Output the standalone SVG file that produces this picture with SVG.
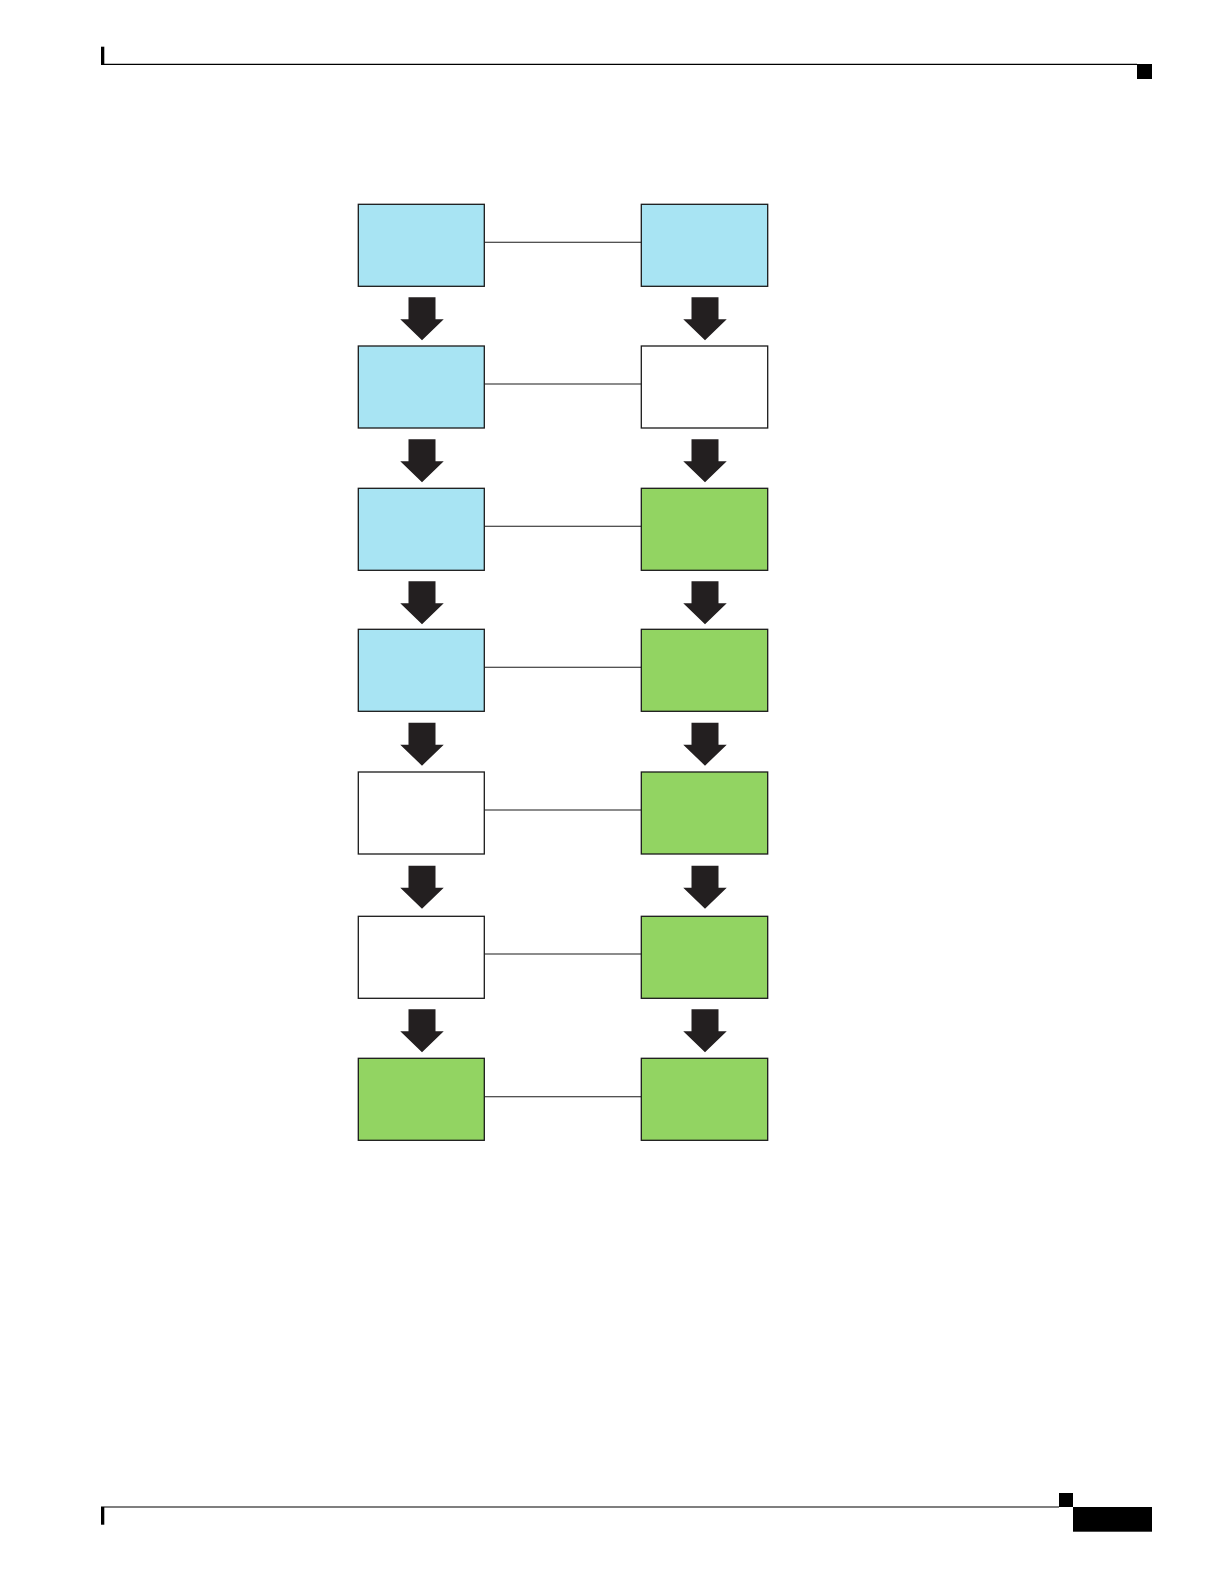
<svg xmlns="http://www.w3.org/2000/svg" xmlns:xlink="http://www.w3.org/1999/xlink" width="1224" height="1584" viewBox="0 0 1224 1584">
<style>
.box{stroke:#1a1a1a;stroke-width:1.3}
.blue{fill:#a8e4f3}
.green{fill:#92d462}
.white{fill:#ffffff}
.conn{stroke:#1a1a1a;stroke-width:1.1;fill:none}
.arrow{fill:#231f20}
.page{fill:#000}
</style>
<defs>
<polygon id="arr" class="arrow" points="-13.5,0 13.5,0 13.5,22 21.75,22 0,43 -21.75,22 -13.5,22"/>
</defs>
<rect width="1224" height="1584" fill="#fff"/>
<g id="header">
<rect class="page" x="101" y="46.7" width="3.3" height="18.3"/>
<line x1="101" y1="64.3" x2="1137" y2="64.3" stroke="#000" stroke-width="1.2"/>
<rect class="page" x="1137" y="64" width="15" height="15"/>
</g>
<g id="footer">
<line x1="101" y1="1507" x2="1059" y2="1507" stroke="#000" stroke-width="1.2"/>
<rect class="page" x="101" y="1507" width="3.3" height="17.7"/>
<rect class="page" x="1059" y="1493" width="14" height="14"/>
<rect class="page" x="1073" y="1507" width="79" height="24.7"/>
</g>
<g id="connectors">
<line class="conn" x1="484.3" y1="242.3" x2="641.3" y2="242.3"/>
<line class="conn" x1="484.3" y1="384" x2="641.3" y2="384"/>
<line class="conn" x1="484.3" y1="526.3" x2="641.3" y2="526.3"/>
<line class="conn" x1="484.3" y1="667.3" x2="641.3" y2="667.3"/>
<line class="conn" x1="484.3" y1="810" x2="641.3" y2="810"/>
<line class="conn" x1="484.3" y1="954" x2="641.3" y2="954"/>
<line class="conn" x1="484.3" y1="1096.7" x2="641.3" y2="1096.7"/>
<use xlink:href="#arr" x="422" y="297.3"/>
<use xlink:href="#arr" x="705" y="297.3"/>
<use xlink:href="#arr" x="422" y="439.3"/>
<use xlink:href="#arr" x="705" y="439.3"/>
<use xlink:href="#arr" x="422" y="581.3"/>
<use xlink:href="#arr" x="705" y="581.3"/>
<use xlink:href="#arr" x="422" y="722.7"/>
<use xlink:href="#arr" x="705" y="722.7"/>
<use xlink:href="#arr" x="422" y="865.7"/>
<use xlink:href="#arr" x="705" y="865.7"/>
<use xlink:href="#arr" x="422" y="1009.3"/>
<use xlink:href="#arr" x="705" y="1009.3"/>
</g>
<g id="L1"><rect class="box blue" x="358.3" y="204.3" width="126" height="82"/></g>
<g id="R1"><rect class="box blue" x="641.3" y="204.3" width="126.4" height="82"/></g>
<g id="L2"><rect class="box blue" x="358.3" y="346" width="126" height="82"/></g>
<g id="R2"><rect class="box white" x="641.3" y="346" width="126.4" height="82"/></g>
<g id="L3"><rect class="box blue" x="358.3" y="488.3" width="126" height="82"/></g>
<g id="R3"><rect class="box green" x="641.3" y="488.3" width="126.4" height="82"/></g>
<g id="L4"><rect class="box blue" x="358.3" y="629.3" width="126" height="82"/></g>
<g id="R4"><rect class="box green" x="641.3" y="629.3" width="126.4" height="82"/></g>
<g id="L5"><rect class="box white" x="358.3" y="772" width="126" height="82"/></g>
<g id="R5"><rect class="box green" x="641.3" y="772" width="126.4" height="82"/></g>
<g id="L6"><rect class="box white" x="358.3" y="916.3" width="126" height="82"/></g>
<g id="R6"><rect class="box green" x="641.3" y="916.3" width="126.4" height="82"/></g>
<g id="L7"><rect class="box green" x="358.3" y="1058.3" width="126" height="82"/></g>
<g id="R7"><rect class="box green" x="641.3" y="1058.3" width="126.4" height="82"/></g>
</svg>
